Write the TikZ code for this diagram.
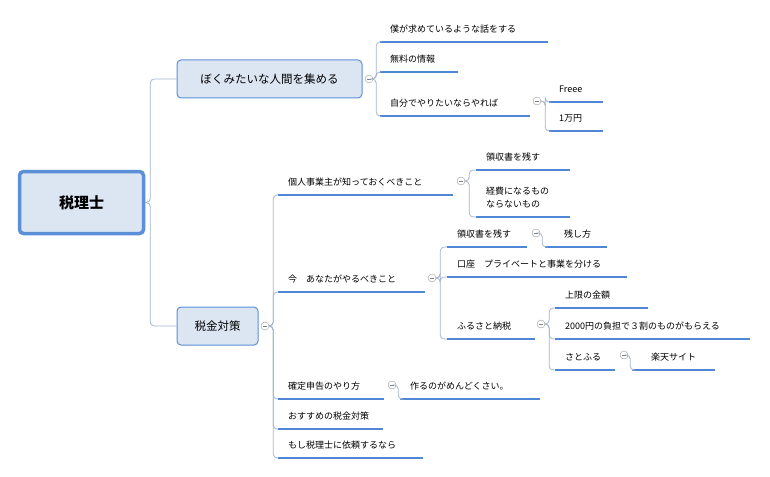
\documentclass[tikz,border=0pt]{standalone}
\usepackage{fontspec}
\setmainfont{Noto Sans CJK JP}
\usetikzlibrary{positioning}

\definecolor{boxfill}{HTML}{DCE6F2}
\definecolor{boxline}{HTML}{5B8FD8}
\definecolor{branchc}{HTML}{A3B5CF}
\definecolor{ulinec}{HTML}{4F86D6}

\tikzset{
  branch/.style={draw=branchc, line width=0.8pt, rounded corners=4pt},
  uline/.style={draw=ulinec, line width=1.8pt},
  leaf/.style={anchor=south west, inner sep=1pt, font=\fontsize{9}{13}\selectfont, align=left},
  topic/.style={draw=boxline, fill=boxfill, rounded corners=4pt, line width=1pt,
    font=\fontsize{11.5}{14}\selectfont, inner sep=0pt},
  tog/.style={circle, draw=gray!80, fill=white, minimum size=8pt, inner sep=0pt,
    path picture={\draw[gray] ([xshift=-2.2pt]path picture bounding box.center)
      -- ([xshift=2.2pt]path picture bounding box.center);}}
}

% name, x, y, x end, text
\newcommand\leaf[5]{%
  \coordinate (#1) at (#2,#3);
  \draw[uline] (#1) -- (#4,#3);
  \node[leaf] (#1t) at (#2+9,#3-8) {#5};
}

\begin{document}
\begin{tikzpicture}[x=1pt, y=-1pt]
  \useasboundingbox (0,0) rectangle (770,476);

  % main topics
  \node[topic, line width=3.5pt, minimum width=124pt, minimum height=62pt,
    font=\fontsize{15}{18}\selectfont\bfseries] (root) at (81.5,202.5) {税理士};
  \node[topic, minimum width=185pt, minimum height=38pt] (n1) at (269.5,79) {ぼくみたいな人間を集める};
  \node[topic, minimum width=81pt, minimum height=38pt] (n2) at (217.5,326) {税金対策};
  \draw[branch] (root.east) -- ++(5,0) |- (n1.west);
  \draw[branch] (root.east) -- ++(5,0) |- (n2.west);

  \node[tog] (t1) at (369,79) {};
  \node[tog] (t2) at (265,326) {};

  % first topic
  \leaf{a1}{380}{42}{548}{僕が求めているような話をする}
  \leaf{a2}{380}{72}{458}{無料の情報}
  \leaf{a3}{380}{116}{530}{自分でやりたいならやれば}
  \foreach \c in {a1,a2,a3} \draw[branch] (t1.east) -- ++(3,0) |- (\c);
  \node[tog] (t3) at (537,101) {};
  \leaf{b1}{549}{102}{603}{Freee}
  \leaf{b2}{549}{131}{603}{1万円}
  \foreach \c in {b1,b2} \draw[branch] (t3.east) -- ++(4,0) |- (\c);

  % second topic
  \leaf{c1}{278}{195}{453}{個人事業主が知っておくべきこと}
  \leaf{c2}{278}{292}{425}{今　あなたがやるべきこと}
  \leaf{c3}{278}{399}{384}{確定申告のやり方}
  \leaf{c4}{278}{429}{383}{おすすめの税金対策}
  \leaf{c5}{278}{458}{423}{もし税理士に依頼するなら}
  \foreach \c in {c1,c2,c3,c4,c5} \draw[branch] (t2.east) -- ++(4,0) |- (\c);

  \node[tog] (t4) at (461,181) {};
  \leaf{d1}{476}{170}{570}{領収書を残す}
  \leaf{d2}{476}{217}{570}{経費になるもの\\ならないもの}
  \foreach \c in {d1,d2} \draw[branch] (t4.east) -- ++(4,0) |- (\c);

  \node[tog] (t5) at (432,278) {};
  \leaf{e1}{447}{247}{527}{領収書を残す}
  \leaf{e2}{447}{277}{627}{口座　プライベートと事業を分ける}
  \leaf{e3}{447}{339}{535}{ふるさと納税}
  \foreach \c in {e1,e2,e3} \draw[branch] (t5.east) -- ++(4,0) |- (\c);

  \node[tog] (t6) at (536,233) {};
  \leaf{f1}{545}{247}{607}{　残し方}
  \draw[branch] (t6.east) -- ++(2,0) |- (f1);

  \node[tog] (t7) at (541,324) {};
  \leaf{g1}{555}{308}{648}{上限の金額}
  \leaf{g2}{555}{339}{750}{2000円の負担で３割のものがもらえる}
  \leaf{g3}{555}{370}{615}{さとふる}
  \foreach \c in {g1,g2,g3} \draw[branch] (t7.east) -- ++(4,0) |- (\c);

  \node[tog] (t8) at (624,355) {};
  \leaf{h1}{632}{370}{715}{　楽天サイト}
  \draw[branch] (t8.east) -- ++(2,0) |- (h1);

  \node[tog] (t9) at (392,385) {};
  \leaf{k1}{400}{399}{540}{作るのがめんどくさい。}
  \draw[branch] (t9.east) -- ++(2,0) |- (k1);
\end{tikzpicture}
\end{document}
